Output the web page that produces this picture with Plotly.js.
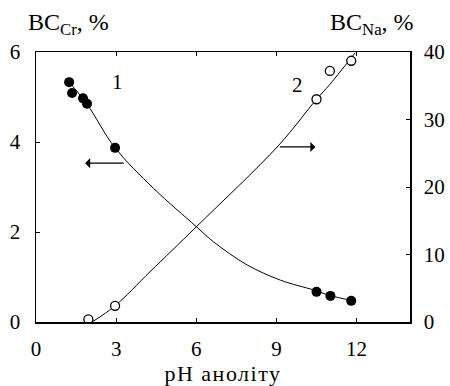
<!DOCTYPE html>
<html>
<head>
<meta charset="utf-8">
<script src="https://cdn.plot.ly/plotly-3.0.1.min.js"></script>
<style>html,body{margin:0;padding:0;background:#fff;}#chart{width:450px;height:386px;}
.xtitle{letter-spacing:1.5px;}</style>
</head>
<body>
<div id="chart"></div>
<script>
// Curve 1: BC_Cr (left axis), measured points
const crPH = [1.24, 1.35, 1.76, 1.91, 2.96, 10.5, 11.02, 11.8];
const crBC = [5.33, 5.09, 4.97, 4.85, 3.87, 0.67, 0.58, 0.47];
// Curve 1: fitted line
const crFitPH = [1.24, 1.9, 2.96, 4.4, 6.0, 6.65, 7.9, 9.15, 10.4, 11.0, 11.8];
const crFitBC = [5.33, 4.85, 3.87, 2.97, 2.12, 1.78, 1.27, 0.93, 0.71, 0.59, 0.48];
// Curve 2: BC_Na (right axis), measured points
const naPH = [1.96, 2.96, 10.5, 11.0, 11.8];
const naBC = [0.4, 2.4, 33.0, 37.2, 38.7];
// Curve 2: fitted line
const naFitPH = [2.1, 2.96, 4.27, 6.0, 9.09, 10.5, 11.0, 11.95];
const naFitBC = [0, 2.4, 7.45, 14.1, 26.2, 33.0, 35.2, 39.9];

const xTicks = [0, 3, 6, 9, 12];
const yLeftTicks = [0, 2, 4, 6];
const yRightTicks = [0, 10, 20, 30, 40];

const F = 'Liberation Serif, Times New Roman, serif';
const traces = [
  {x: crFitPH, y: crFitBC, mode: 'lines', line: {color: '#000', width: 1, shape: 'spline'}, yaxis: 'y', hoverinfo: 'skip'},
  {x: naFitPH, y: naFitBC, mode: 'lines', line: {color: '#000', width: 1, shape: 'spline'}, yaxis: 'y2', hoverinfo: 'skip'},
  {x: crPH, y: crBC, mode: 'markers', marker: {color: '#000', size: 10, symbol: 'circle'}, yaxis: 'y'},
  {x: naPH, y: naBC, mode: 'markers', marker: {color: '#fff', size: 9, symbol: 'circle', line: {color: '#000', width: 1.3}}, yaxis: 'y2'}
];

const axisCommon = {showgrid: false, zeroline: false, showline: true, linecolor: '#000', linewidth: 1.5,
  ticks: 'inside', ticklen: 4, tickcolor: '#000', tickwidth: 1, tickfont: {family: F, size: 21, color: '#000'}};

const layout = {
  width: 450, height: 386, showlegend: false,
  paper_bgcolor: '#fff', plot_bgcolor: '#fff',
  margin: {l: 36, r: 40, t: 52, b: 64},
  xaxis: Object.assign({}, axisCommon, {range: [0, 14], tickvals: xTicks, mirror: 'ticks', ticklabelstandoff: 7,
    title: {text: 'pH аноліту', font: {family: F, size: 22, color: '#000'}, standoff: 6}}),
  yaxis: Object.assign({}, axisCommon, {range: [0, 6], tickvals: yLeftTicks, ticklabelstandoff: 10}),
  yaxis2: Object.assign({}, axisCommon, {range: [0, 40], tickvals: yRightTicks, overlaying: 'y', side: 'right', ticklabelstandoff: 8}),
  annotations: [
    {xref: 'paper', yref: 'paper', x: -0.026, y: 1.04, xanchor: 'left', yanchor: 'bottom', showarrow: false,
     text: 'BC<sub>Cr</sub>, %', font: {family: F, size: 24, color: '#000'}},
    {xref: 'paper', yref: 'paper', x: 1.015, y: 1.04, xanchor: 'right', yanchor: 'bottom', showarrow: false,
     text: 'BC<sub>Na</sub>, %', font: {family: F, size: 24, color: '#000'}},
    {x: 3.05, y: 5.33, xref: 'x', yref: 'y', showarrow: false, text: '1', font: {family: F, size: 21, color: '#000'}},
    {x: 9.8, y: 5.27, xref: 'x', yref: 'y', showarrow: false, text: '2', font: {family: F, size: 21, color: '#000'}},
    {x: 1.84, y: 3.53, xref: 'x', yref: 'y', ax: 3.34, ay: 3.53, axref: 'x', ayref: 'y', showarrow: true,
     arrowhead: 1, arrowsize: 1.4, arrowwidth: 1.2, arrowcolor: '#000', text: ''},
    {x: 10.46, y: 3.89, xref: 'x', yref: 'y', ax: 9.07, ay: 3.89, axref: 'x', ayref: 'y', showarrow: true,
     arrowhead: 1, arrowsize: 1.4, arrowwidth: 1.2, arrowcolor: '#000', text: ''}
  ]
};

Plotly.newPlot('chart', traces, layout, {staticPlot: true});
</script>
</body>
</html>
